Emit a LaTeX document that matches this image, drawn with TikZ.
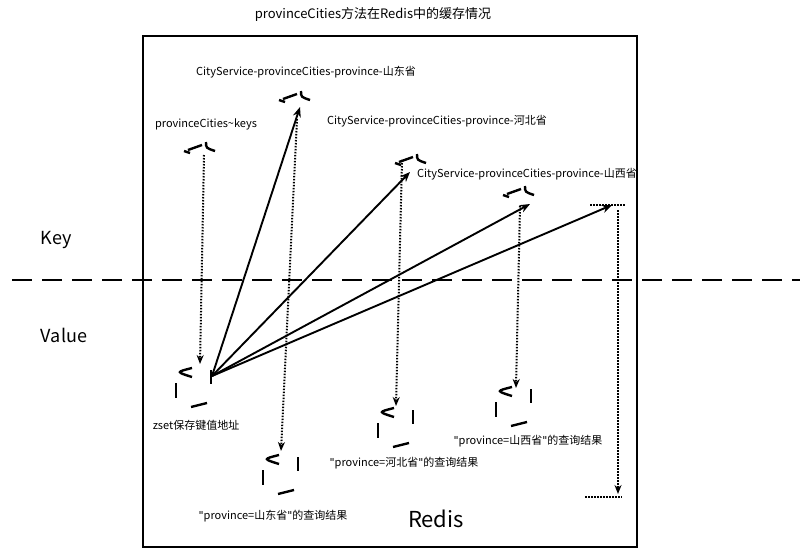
\documentclass[tikz,border=0pt]{standalone}
\usepackage{fontspec}
\setmainfont{Noto Sans CJK SC}
\newfontfamily\latf{DejaVu Sans}
\usetikzlibrary{arrows.meta,calc}
\newcommand\dq{{\latf\symbol{34}}}
\tikzset{
 frag/.style={line width=2.4pt},
 sol/.style={line width=1.9pt,-{Stealth[length=10pt,width=8pt]}},
 dot/.style={line width=2pt,dash pattern=on 1.5pt off 1.5pt,-{Stealth[length=9pt,width=7pt,open]}},
 lbl/.style={font=\fontsize{11}{13}\selectfont,inner sep=0pt},
}
\newcommand\keytop[1]{%
 \draw[frag] ($(#1)+(-3,-3)$) -- ($(#1)+(-17,2)$);
 \draw[frag] ($(#1)+(-21,3)$) -- ($(#1)+(-15,5)$);
 \draw[frag] ($(#1)+(1,-6)$) .. controls ($(#1)+(1,0)$) .. ($(#1)+(10,3)$);}
\newcommand\valcyl[1]{%
 \draw[frag] ($(#1)+(-2,-10)$) .. controls ($(#1)+(-18,-6)$) .. ($(#1)+(-2,-1)$);
 \draw[frag] ($(#1)+(17,-8)$) -- ($(#1)+(17,6)$);
 \draw[frag] ($(#1)+(-18,5)$) -- ($(#1)+(-18,20)$);
 \draw[frag] ($(#1)+(-3,29)$) -- ($(#1)+(13,25)$);}
\begin{document}
\begin{tikzpicture}[x=1pt,y=-1pt]
\useasboundingbox (0,0) rectangle (800,551);
\draw[line width=2pt] (143,36) rectangle (637,547);
\draw[line width=2pt,dash pattern=on 20pt off 10pt] (12,280) -- (800,280);
\node[font=\fontsize{13}{15}\selectfont] (title) at (373,14) {provinceCities方法在Redis中的缓存情况};
\node[font=\fontsize{18}{20}\selectfont] (key) at (56,240) {Key};
\node[font=\fontsize{18}{20}\selectfont] (val) at (64,335) {Value};
\node[font=\fontsize{22}{24}\selectfont] (redis) at (436,519) {Redis};
% key nodes
\coordinate (k0) at (205,148);
\coordinate (k1) at (300,97);
\coordinate (k2) at (416,160);
\coordinate (k3) at (524,192);
\keytop{k0}\keytop{k1}\keytop{k2}\keytop{k3}
\node[lbl] (t0) at (206,124) {provinceCities\textasciitilde keys};
\node[lbl] (t1) at (306,72) {CityService-provinceCities-province-山东省};
\node[lbl] (t2) at (437,121) {CityService-provinceCities-province-河北省};
\node[lbl] (t3) at (527,174) {CityService-provinceCities-province-山西省};
\coordinate (k4a) at (590,205); \coordinate (k4b) at (625,205);
\draw[line width=1.5pt,dash pattern=on 1.5pt off 1.5pt] (k4a) -- (k4b);
\coordinate (b4a) at (585,497); \coordinate (b4b) at (622,497);
\draw[line width=1.5pt,dash pattern=on 1.5pt off 1.5pt] (b4a) -- (b4b);
% value nodes
\coordinate (v0) at (194,378);
\coordinate (v1) at (281,465);
\coordinate (v2) at (396,418);
\coordinate (v3) at (514,397);
\valcyl{v0}\valcyl{v1}\valcyl{v2}\valcyl{v3}
\node[lbl] (u0) at (196,425) {zset保存键值地址};
\node[lbl] (u1) at (273,516) {\dq province=山东省\dq 的查询结果};
\node[lbl] (u2) at (404,463) {\dq province=河北省\dq 的查询结果};
\node[lbl] (u3) at (528,441) {\dq province=山西省\dq 的查询结果};
% solid arrows
\coordinate (src) at (212,376);
\draw[sol] (src) -- ($(k1)+(0,10)$);
\draw[sol] (src) -- ($(k2)+(-6,12)$);
\draw[sol] (src) -- ($(k3)+(6,12)$);
\draw[sol] (src) -- ($(k4a)+(22,0)$);
% dotted arrows
\draw[dot] ($(k0)+(-1,7)$) -- ($(v0)+(6,-14)$);
\draw[dot] ($(k1)+(-3,22)$) -- ($(v1)+(0,-14)$);
\draw[dot] ($(k2)+(-14,0)$) -- ($(v2)+(0,-12)$);
\draw[dot] ($(k3)+(-4,14)$) -- ($(v3)+(2,-9)$);
\draw[dot] ($(k4b)+(-7,5)$) -- ($(b4b)+(-4,-3)$);
\end{tikzpicture}
\end{document}
